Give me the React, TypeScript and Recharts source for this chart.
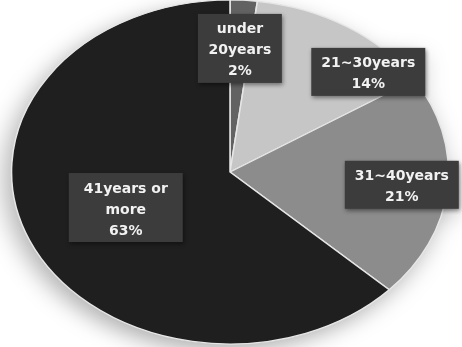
import { Cell, Pie, PieChart } from "recharts";

const categories = ["under\n20years", "21~30years", "31~40years", "41years or\nmore"];
const shares = [2, 14, 21, 63];
const sliceColors = ["#626262", "#c6c6c6", "#8c8c8c", "#1f1f1f"];

// excel "best fit" label placement, as fraction of radius + angle nudge
const labelRadius = [0.72, 0.86, 0.79, 0.52];
const labelNudge = [0, -15, 0, 0];

const data = categories.map((name, i) => ({ name, value: shares[i] }));

const W = 462;
const H = 347;
const CX = 230;
const CY = 172;
const R = 172;
const SX = 1.27; // the picture is an ellipse, wider than tall

const RAD = Math.PI / 180;

function renderLabel(props: any) {
  const { cx, cy, midAngle, outerRadius, index, name, value } = props;
  const a = (midAngle + labelNudge[index]) * RAD;
  const r = outerRadius * labelRadius[index];
  const x = cx + r * Math.cos(-a);
  const y = cy + r * Math.sin(-a);
  const lines = [...String(name).split("\n"), `${value}%`];
  const longest = Math.max(...lines.map((l) => l.length));
  const bw = longest * 10 + 14;
  const lh = 21;
  const bh = lines.length * lh + 6;
  return (
    <g transform={`translate(${x},${y}) scale(${1 / SX},1)`}>
      <rect
        x={-bw / 2}
        y={-bh / 2}
        width={bw}
        height={bh}
        fill="#3c3c3c"
        style={{ filter: "drop-shadow(1px 2px 2px rgba(0,0,0,0.45))" }}
      />
      {lines.map((l, i) => (
        <text
          key={i}
          x={0}
          y={-bh / 2 + 4 + lh * i + lh / 2}
          textAnchor="middle"
          dominantBaseline="central"
          fill="#f2f2f2"
          fontFamily="'DejaVu Sans', Verdana, sans-serif"
          fontWeight="bold"
          fontSize={14}
        >
          {l}
        </text>
      ))}
    </g>
  );
}

export default function App() {
  return (
    <div
      style={{
        position: "absolute",
        left: 0,
        top: 0,
        width: W,
        height: H,
        overflow: "hidden",
        background: "#fff",
      }}
    >
      <div
        style={{
          transform: `scaleX(${SX})`,
          transformOrigin: `${CX}px ${CY}px`,
          filter: "drop-shadow(-5px 7px 10px rgba(0,0,0,0.3))",
        }}
      >
        <PieChart width={W} height={H} margin={{ top: 0, right: 0, bottom: 0, left: 0 }}>
          <Pie
            data={data}
            dataKey="value"
            nameKey="name"
            cx={CX}
            cy={CY}
            outerRadius={R}
            startAngle={90}
            endAngle={-270}
            stroke="#e6e6e6"
            strokeWidth={1.2}
            label={renderLabel}
            labelLine={false}
            isAnimationActive={false}
          >
            {data.map((d, i) => (
              <Cell key={d.name} fill={sliceColors[i]} />
            ))}
          </Pie>
        </PieChart>
      </div>
    </div>
  );
}
